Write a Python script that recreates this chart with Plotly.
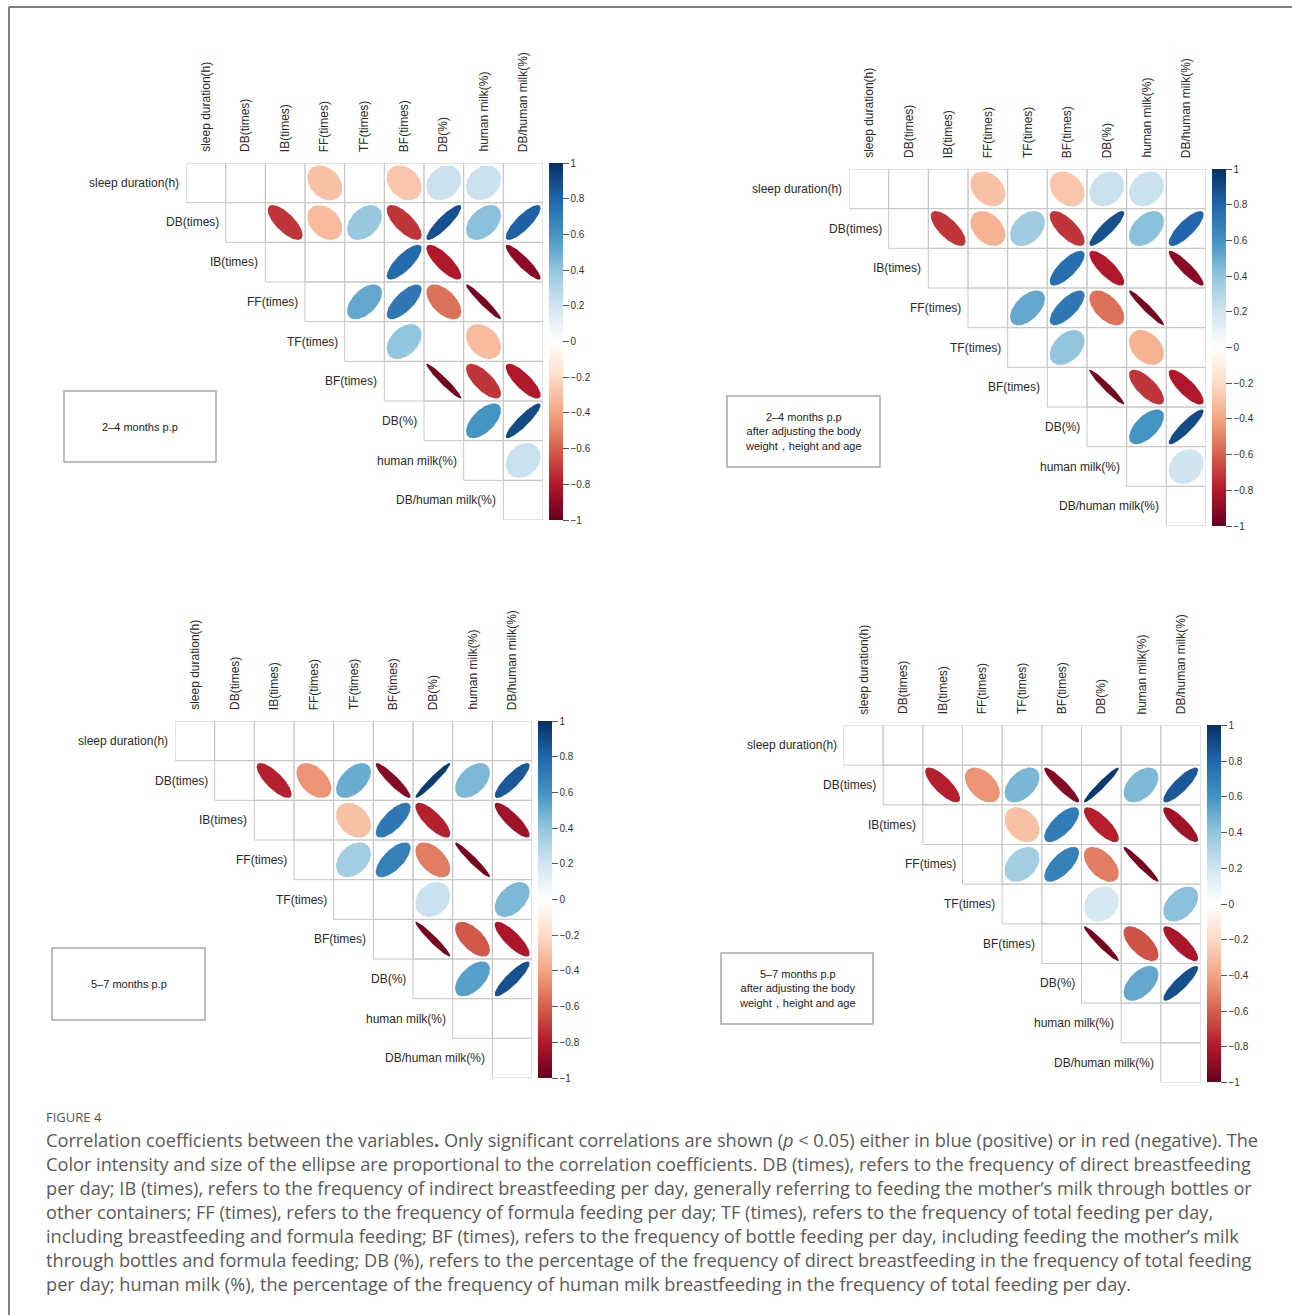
import numpy as np
import plotly.graph_objects as go
from plotly.colors import sample_colorscale

W, H = 1292, 1315

variables = [
    "sleep duration(h)", "DB(times)", "IB(times)", "FF(times)", "TF(times)",
    "BF(times)", "DB(%)", "human milk(%)", "DB/human milk(%)",
]

N = None
# Upper-triangle correlation matrices; None = not significant / not drawn
corr_2to4 = [
    [N, N, N, -0.30, N, -0.28, 0.22, 0.22, N],
    [N, N, -0.72, -0.32, 0.38, -0.72, 0.88, 0.42, 0.82],
    [N, N, N, N, N, 0.78, -0.80, N, -0.90],
    [N, N, N, N, 0.52, 0.72, -0.55, -0.96, N],
    [N, N, N, N, N, 0.40, N, -0.32, N],
    [N, N, N, N, N, N, -0.96, -0.72, -0.80],
    [N, N, N, N, N, N, N, 0.60, 0.90],
    [N, N, N, N, N, N, N, N, 0.22],
    [N, N, N, N, N, N, N, N, N],
]
corr_2to4_adj = [
    [N, N, N, -0.30, N, -0.28, 0.22, 0.22, N],
    [N, N, -0.72, -0.35, 0.36, -0.72, 0.88, 0.42, 0.80],
    [N, N, N, N, N, 0.76, -0.80, N, -0.90],
    [N, N, N, N, 0.52, 0.72, -0.55, -0.96, N],
    [N, N, N, N, N, 0.40, N, -0.35, N],
    [N, N, N, N, N, N, -0.96, -0.72, -0.80],
    [N, N, N, N, N, N, N, 0.60, 0.90],
    [N, N, N, N, N, N, N, N, 0.20],
    [N, N, N, N, N, N, N, N, N],
]
corr_5to7 = [
    [N, N, N, N, N, N, N, N, N],
    [N, N, -0.78, -0.45, 0.50, -0.92, 0.96, 0.45, 0.85],
    [N, N, N, N, -0.30, 0.72, -0.78, N, -0.85],
    [N, N, N, N, 0.35, 0.68, -0.52, -0.96, N],
    [N, N, N, N, N, N, 0.22, N, 0.45],
    [N, N, N, N, N, N, -0.96, -0.62, -0.82],
    [N, N, N, N, N, N, N, 0.55, 0.88],
    [N, N, N, N, N, N, N, N, N],
    [N, N, N, N, N, N, N, N, N],
]
corr_5to7_adj = [
    [N, N, N, N, N, N, N, N, N],
    [N, N, -0.78, -0.45, 0.46, -0.92, 0.96, 0.45, 0.85],
    [N, N, N, N, -0.30, 0.70, -0.78, N, -0.85],
    [N, N, N, N, 0.35, 0.68, -0.52, -0.96, N],
    [N, N, N, N, N, N, 0.18, N, 0.42],
    [N, N, N, N, N, N, -0.96, -0.64, -0.82],
    [N, N, N, N, N, N, N, 0.52, 0.88],
    [N, N, N, N, N, N, N, N, N],
    [N, N, N, N, N, N, N, N, N],
]

panel_titles = [
    "2–4 months p.p",
    "2–4 months p.p<br>after adjusting the body<br>weight，height and age",
    "5–7 months p.p",
    "5–7 months p.p<br>after adjusting the body<br>weight，height and age",
]

caption_lines = [
    "Correlation coefficients between the variables<b>.</b> Only significant correlations are shown (<i>p</i> &lt; 0.05) either in blue (positive) or in red (negative). The",
    "Color intensity and size of the ellipse are proportional to the correlation coefficients. DB (times), refers to the frequency of direct breastfeeding",
    "per day; IB (times), refers to the frequency of indirect breastfeeding per day, generally referring to feeding the mother’s milk through bottles or",
    "other containers; FF (times), refers to the frequency of formula feeding per day; TF (times), refers to the frequency of total feeding per day,",
    "including breastfeeding and formula feeding; BF (times), refers to the frequency of bottle feeding per day, including feeding the mother’s milk",
    "through bottles and formula feeding; DB (%), refers to the percentage of the frequency of direct breastfeeding in the frequency of total feeding",
    "per day; human milk (%), the percentage of the frequency of human milk breastfeeding in the frequency of total feeding per day.",
]

RDBU = [
    [0.0, "#67001F"], [0.1, "#B2182B"], [0.2, "#D6604D"], [0.3, "#F4A582"],
    [0.4, "#FDDBC7"], [0.5, "#FFFFFF"], [0.6, "#D1E5F0"], [0.7, "#92C5DE"],
    [0.8, "#4393C3"], [0.9, "#2166AC"], [1.0, "#053061"],
]

# Pixel layout of each panel: grid left/top, grid size, text-box rectangle
GRID = 357.0
panels = [
    dict(data=corr_2to4, left=186.0, top=163.0, box=(64, 391, 216, 462)),
    dict(data=corr_2to4_adj, left=849.0, top=169.0, box=(727, 396, 880, 467)),
    dict(data=corr_5to7, left=175.0, top=721.0, box=(52, 948, 205, 1020)),
    dict(data=corr_5to7_adj, left=843.5, top=725.5, box=(721, 953, 873, 1024)),
]

n = len(variables)
fig = go.Figure()
shapes = []
annotations = []
LABEL_FONT = dict(family="Liberation Sans, Arial, sans-serif", size=12, color="#2a2a2a")
theta = np.linspace(0, 2 * np.pi, 120)
SCALE = 0.44

for k, p in enumerate(panels, start=1):
    xa, ya = f"x{k}", f"y{k}"
    left, top = p["left"], p["top"]
    fig.layout[f"xaxis{k}"] = dict(
        domain=[left / W, (left + GRID) / W], range=[-0.5, n - 0.5],
        visible=False, fixedrange=True, anchor=ya,
    )
    fig.layout[f"yaxis{k}"] = dict(
        domain=[1 - (top + GRID) / H, 1 - top / H], range=[-(n - 0.5), 0.5],
        visible=False, fixedrange=True, anchor=xa,
    )

    # grid cells of the upper triangle
    for i in range(n):
        for j in range(i, n):
            shapes.append(dict(
                type="rect", xref=xa, yref=ya, x0=j - 0.5, x1=j + 0.5,
                y0=-i - 0.5, y1=-i + 0.5, line=dict(color="#c8c8c8", width=1),
                layer="below",
            ))

    # ellipses
    mat = p["data"]
    for i in range(n):
        for j in range(n):
            r = mat[i][j]
            if r is None:
                continue
            d = np.arccos(r)
            ex = j + SCALE * np.cos(theta + d / 2)
            ey = -i + SCALE * np.cos(theta - d / 2)
            col = sample_colorscale(RDBU, [(r + 1) / 2])[0]
            fig.add_trace(go.Scatter(
                x=ex, y=ey, mode="lines", fill="toself", fillcolor=col,
                line=dict(width=0, color=col), xaxis=xa, yaxis=ya,
                hoverinfo="skip", showlegend=False,
            ))

    # colour bar
    fig.add_trace(go.Scatter(
        x=[0], y=[0], mode="markers", xaxis=xa, yaxis=ya, hoverinfo="skip",
        showlegend=False,
        marker=dict(
            size=1, opacity=0, color=[0], colorscale=RDBU, cmin=-1, cmax=1,
            showscale=True,
            colorbar=dict(
                thickness=14, thicknessmode="pixels",
                len=GRID, lenmode="pixels",
                x=(left + GRID + 6) / W, xanchor="left",
                y=1 - (top + GRID / 2) / H, yanchor="middle",
                xpad=0, ypad=0, outlinewidth=0, borderwidth=0,
                ticks="outside", ticklen=6, tickwidth=1, tickcolor="#555",
                tickvals=[-1, -0.8, -0.6, -0.4, -0.2, 0, 0.2, 0.4, 0.6, 0.8, 1],
                tickfont=dict(family="Liberation Sans, Arial, sans-serif", size=10, color="#333"),
            ),
        ),
    ))

    # row and column labels
    for i, name in enumerate(variables):
        annotations.append(dict(
            text=name, xref=xa, yref=ya, x=i - 0.5, y=-i, xanchor="right",
            yanchor="middle", xshift=-5, showarrow=False, font=LABEL_FONT,
        ))
        annotations.append(dict(
            text=name, xref=xa, yref=ya, x=i, y=0.5, xanchor="center",
            yanchor="bottom", yshift=9, textangle=-90, showarrow=False,
            font=LABEL_FONT,
        ))

    # panel description box
    bx0, by0, bx1, by1 = p["box"]
    shapes.append(dict(
        type="rect", xref="paper", yref="paper", x0=bx0 / W, x1=bx1 / W,
        y0=1 - by1 / H, y1=1 - by0 / H, line=dict(color="#a8a8a8", width=1.5),
    ))
    annotations.append(dict(
        text=panel_titles[k - 1], xref="paper", yref="paper",
        x=(bx0 + bx1) / 2 / W, y=1 - (by0 + by1) / 2 / H,
        xanchor="center", yanchor="middle", showarrow=False,
        font=dict(family="Liberation Sans, Arial, sans-serif", size=11, color="#222"),
    ))

# outer frame (top and left edges)
shapes.append(dict(type="line", xref="paper", yref="paper", x0=9 / W, x1=1,
                   y0=1 - 7 / H, y1=1 - 7 / H, line=dict(color="#555", width=1.5)))
shapes.append(dict(type="line", xref="paper", yref="paper", x0=9 / W, x1=9 / W,
                   y0=1 - 7 / H, y1=0, line=dict(color="#555", width=1.5)))

# figure caption
annotations.append(dict(
    text="FIGURE 4", xref="paper", yref="paper", x=44 / W, y=1 - 1117 / H,
    xanchor="left", yanchor="middle", showarrow=False,
    font=dict(family="Open Sans, sans-serif", size=13, color="#555"),
))
for li, line in enumerate(caption_lines):
    annotations.append(dict(
        text=line, xref="paper", yref="paper", x=44 / W, y=1 - (1140 + 24 * li) / H,
        xanchor="left", yanchor="middle", showarrow=False,
        font=dict(family="Open Sans, sans-serif", size=18.2, color="#5a5a5a"),
    ))

fig.update_layout(
    width=W, height=H, margin=dict(l=0, r=0, t=0, b=0),
    paper_bgcolor="white", plot_bgcolor="white",
    shapes=shapes, annotations=annotations, showlegend=False,
)

fig.write_html("out.html")
